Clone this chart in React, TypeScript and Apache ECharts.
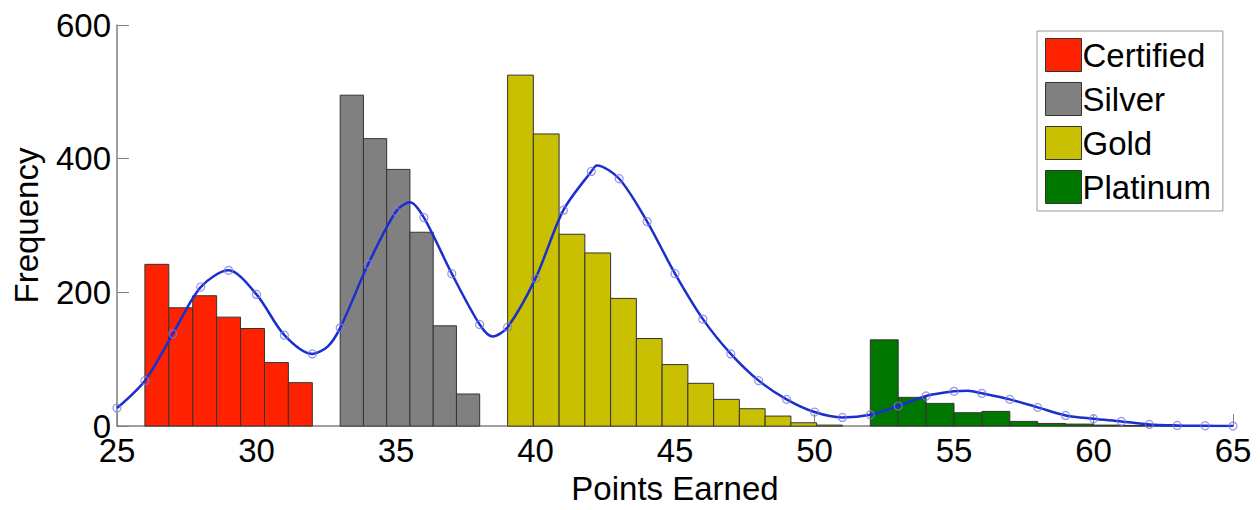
import React, { useEffect, useRef } from "react";
import * as echarts from "echarts";

// Histogram groups: [start, end] range of each group and the bin counts
const groupNames = ["Certified", "Silver", "Gold", "Platinum"];
const groupColors = ["#FF2200", "#808080", "#C8C000", "#007800"];
const certifiedRange = [26, 32];
const certifiedCounts = [242, 177, 195, 163, 146, 95, 65];
const silverRange = [33, 38];
const silverCounts = [495, 430, 384, 290, 150, 48];
const goldRange = [39, 51];
const goldCounts = [525, 437, 287, 259, 191, 131, 92, 64, 40, 26, 15, 5, 1.5];
const platinumRange = [52, 65];
const platinumCounts = [129, 43, 34, 20, 22, 7, 4, 3, 1.5, 1, 1, 0.5, 0.5];

// Fitted curve: markers at integer points
const fitX = [25, 26, 27, 28, 29, 30, 31, 32, 33, 34, 35, 36, 37, 38, 39, 40, 41, 42, 43, 44, 45,
  46, 47, 48, 49, 50, 51, 52, 53, 54, 55, 56, 57, 58, 59, 60, 61, 62, 63, 64, 65];
const fitY = [27, 68, 138, 208, 233, 197, 136, 108, 147, 242, 321, 312, 228, 152, 148, 221, 323, 381,
  370, 306, 228, 160, 108, 68, 40, 21, 13, 17, 30, 45, 52, 49, 40, 28, 16, 11, 7, 2.5, 1, 0.5, 0];
// Extra curve points (no marker) read at the curve's peaks and dips
const curveExtraX = [32.55, 35.5, 38.46, 42.2, 55.5];
const curveExtraY = [119, 335, 134, 390, 53];

const xTicks = [25, 30, 35, 40, 45, 50, 55, 60, 65];

const FONT = "'Liberation Sans', Arial, sans-serif";

function bins(range: number[], counts: number[]) {
  const w = (range[1] - range[0]) / counts.length;
  return counts.map((c, i) => [range[0] + i * w, range[0] + (i + 1) * w, c]);
}

export default function App() {
  const ref = useRef<HTMLDivElement>(null);
  useEffect(() => {
    if (!ref.current) return;
    const chart = echarts.init(ref.current, null, { renderer: "svg" });
    const groups = [
      bins(certifiedRange, certifiedCounts),
      bins(silverRange, silverCounts),
      bins(goldRange, goldCounts),
      bins(platinumRange, platinumCounts),
    ];
    const histSeries = groups.map((data, gi) => ({
      name: groupNames[gi],
      type: "custom",
      data,
      encode: { x: [0, 1], y: 2 },
      itemStyle: { color: groupColors[gi], borderColor: "#333", borderWidth: 1 },
      renderItem: (params: any, api: any) => {
        const p0 = api.coord([api.value(0), api.value(2)]);
        const p1 = api.coord([api.value(1), 0]);
        return {
          type: "rect",
          shape: { x: p0[0], y: p0[1], width: p1[0] - p0[0], height: p1[1] - p0[1] },
          style: { fill: groupColors[gi], stroke: "#333", lineWidth: 1 },
        };
      },
      z: 2,
    }));
    const curve = fitX
      .map((x, i) => [x, fitY[i]])
      .concat(curveExtraX.map((x, i) => [x, curveExtraY[i]]))
      .sort((a, b) => a[0] - b[0]);
    chart.setOption({
      animation: false,
      backgroundColor: "#fff",
      grid: { left: 117, right: 27, top: 25, bottom: 73 },
      legend: {
        data: groupNames.map((n) => ({ name: n, icon: "rect" })),
        orient: "vertical",
        left: 1037,
        top: 31,
        padding: [7, 12, 7, 8],
        itemWidth: 36,
        itemHeight: 33,
        itemGap: 10,
        borderColor: "#999",
        borderWidth: 1,
        backgroundColor: "#fff",
        itemStyle: { borderColor: "#333", borderWidth: 1 },
        textStyle: { fontFamily: FONT, fontSize: 33, color: "#000", padding: [0, 0, 0, -4] },
      },
      xAxis: {
        type: "value",
        min: 25,
        max: 65,
        interval: 5,
        name: "Points Earned",
        nameLocation: "middle",
        nameGap: 39,
        nameTextStyle: { fontFamily: FONT, fontSize: 33, color: "#000" },
        axisLine: { lineStyle: { color: "#808080", width: 1.5 } },
        axisTick: { inside: true, length: 12, lineStyle: { color: "#808080" } },
        axisLabel: {
          fontFamily: FONT, fontSize: 33, color: "#000", margin: 8,
          customValues: xTicks,
        },
        splitLine: { show: false },
      },
      yAxis: {
        type: "value",
        min: 0,
        max: 600,
        interval: 200,
        name: "Frequency",
        nameLocation: "middle",
        nameGap: 74,
        nameTextStyle: { fontFamily: FONT, fontSize: 33, color: "#000" },
        axisLine: { show: true, lineStyle: { color: "#808080", width: 1.5 } },
        axisTick: { show: true, inside: true, length: 12, lineStyle: { color: "#808080" } },
        axisLabel: { fontFamily: FONT, fontSize: 33, color: "#000", margin: 6 },
        splitLine: { show: false },
      },
      series: [
        ...histSeries,
        {
          name: "fit",
          type: "line",
          data: curve,
          smooth: 0.3,
          showSymbol: false,
          symbol: "none",
          lineStyle: { color: "#1A2FD0", width: 2.5 },
          z: 5,
        },
        {
          name: "fitPoints",
          type: "scatter",
          data: fitX.map((x, i) => [x, fitY[i]]),
          symbol: "circle",
          symbolSize: 8,
          itemStyle: { color: "rgba(255,255,255,0)", borderColor: "#7A7AE6", borderWidth: 1.2 },
          z: 6,
        },
      ],
    });
    return () => chart.dispose();
  }, []);
  return (
    <div
      ref={ref}
      style={{ position: "fixed", left: 0, top: 0, width: 1260, height: 510 }}
    />
  );
}
